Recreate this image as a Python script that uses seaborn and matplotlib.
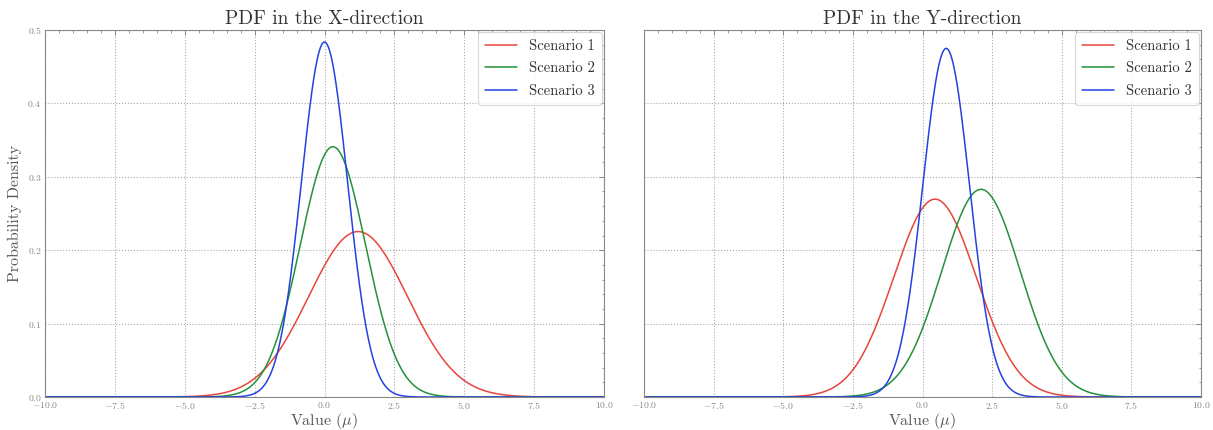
import numpy as np
import pandas as pd
import matplotlib.pyplot as plt
import seaborn as sns

# scenario parameters (mean, std of each normal PDF)
scenarios = ["Scenario 1", "Scenario 2", "Scenario 3"]
x_means = [1.2, 0.3, 0.0]
x_stds = [1.77, 1.17, 0.825]
y_means = [0.45, 2.1, 0.85]
y_stds = [1.48, 1.41, 0.84]
colors = ["#e8453c", "#24913a", "#2342e0"]
x_range = (-10, 10)


def pdf_frame(means, stds):
    grid = np.linspace(x_range[0], x_range[1], 1000)
    frames = []
    for name, mu, sd in zip(scenarios, means, stds):
        dens = np.exp(-0.5 * ((grid - mu) / sd) ** 2) / (sd * np.sqrt(2 * np.pi))
        frames.append(pd.DataFrame({"value": grid, "density": dens, "scenario": name}))
    return pd.concat(frames, ignore_index=True)


sns.set_theme(style="white")
plt.rcParams.update({
    "font.family": "serif",
    "font.serif": ["cmr10"],
    "mathtext.fontset": "cm",
    "axes.formatter.use_mathtext": True,
    "axes.unicode_minus": True,
})

fig = plt.figure(figsize=(12.13, 4.3), dpi=100)
ax1 = fig.add_axes([45 / 1213, 33 / 430, 559 / 1213, 367 / 430])
ax2 = fig.add_axes([644 / 1213, 33 / 430, 557 / 1213, 367 / 430], sharey=ax1)

panels = [(ax1, x_means, x_stds, "PDF in the X-direction"),
          (ax2, y_means, y_stds, "PDF in the Y-direction")]
for ax, means, stds, title in panels:
    df = pdf_frame(means, stds)
    sns.lineplot(data=df, x="value", y="density", hue="scenario", palette=colors,
                 linewidth=1.1, ax=ax)
    ax.set_xlim(*x_range)
    ax.set_ylim(0, 0.5)
    ax.set_xticks(np.arange(-10, 10.1, 2.5))
    ax.set_yticks(np.arange(0, 0.51, 0.1))
    ax.minorticks_on()
    ax.tick_params(which="both", direction="in", top=True, right=True,
                   colors="#777777", labelcolor="#888888", labelsize=7)
    ax.tick_params(which="major", length=3.5, width=0.6, pad=2.5)
    ax.tick_params(which="minor", length=1.8, width=0.5)
    ax.grid(True, which="major", linestyle=":", color="#aaaaaa", linewidth=0.8)
    for sp in ax.spines.values():
        sp.set_color("#888888")
        sp.set_linewidth(0.8)
    ax.set_title(title, fontsize=14, color="#333333", pad=4)
    ax.set_xlabel(r"Value ($\mu$)", fontsize=11.5, color="#555555", labelpad=0)
    ax.set_ylabel("")
    leg = ax.legend(loc="upper right", fontsize=10.5, frameon=True, fancybox=True,
                    handlelength=2.2, borderpad=0.5, labelspacing=0.6,
                    borderaxespad=0.12)
    leg.get_frame().set_edgecolor("#cccccc")
    leg.get_frame().set_linewidth(0.8)
    for t in leg.get_texts():
        t.set_color("#333333")

ax1.set_ylabel("Probability Density", fontsize=11.5, color="#555555", labelpad=4)
ax2.tick_params(labelleft=False)

fig.savefig("out.png", dpi=100)
